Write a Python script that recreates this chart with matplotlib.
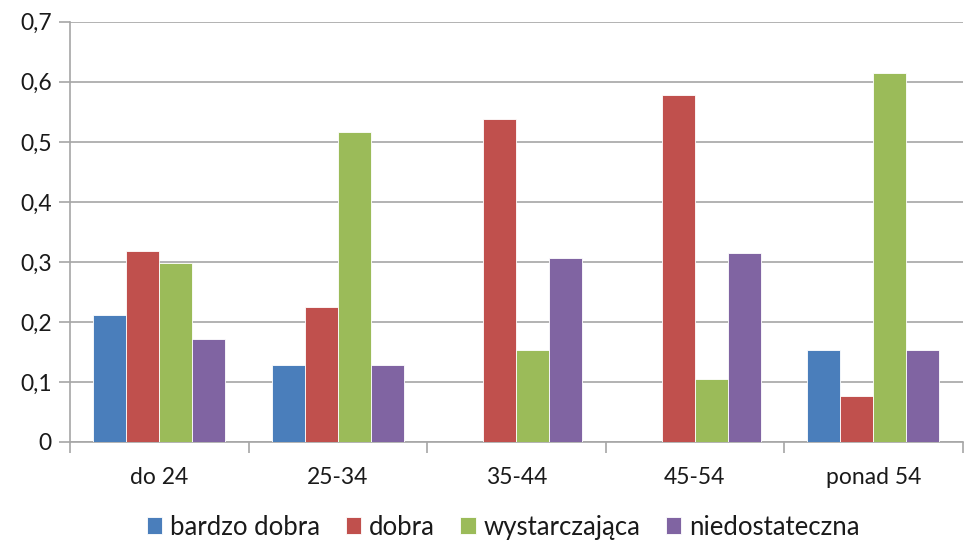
import numpy as np
import matplotlib.pyplot as plt

plt.rcParams['font.family'] = ['Lato', 'DejaVu Sans']

categories = ['do 24', '25-34', '35-44', '45-54', 'ponad 54']
series_names = ['bardzo dobra', 'dobra', 'wystarczająca', 'niedostateczna']
bardzo_dobra = [0.212, 0.129, 0.0, 0.0, 0.154]
dobra = [0.318, 0.225, 0.538, 0.578, 0.077]
wystarczajaca = [0.298, 0.516, 0.154, 0.105, 0.615]
niedostateczna = [0.171, 0.129, 0.307, 0.315, 0.154]
colors = ['#4a7ebb', '#c0504d', '#9bbb59', '#8064a2']

values = [bardzo_dobra, dobra, wystarczajaca, niedostateczna]

fig = plt.figure(figsize=(9.64, 5.45), dpi=100)
ax = fig.add_axes([0.0726, 0.189, 0.926, 0.771])

x = np.arange(len(categories))
w = 0.185
for i, (vals, name, c) in enumerate(zip(values, series_names, colors)):
    ax.bar(x + (i - 1.5) * w, vals, width=w, color=c, label=name,
           edgecolor='white', linewidth=0.6, zorder=3)

ax.set_xlim(-0.5, len(categories) - 0.5)
ax.set_ylim(0, 0.7)
yt = np.arange(0, 0.71, 0.1)
ax.set_yticks(yt)
ax.set_yticklabels(['0' if v == 0 else f'{v:.1f}'.replace('.', ',') for v in yt])
ax.yaxis.grid(True, color='#a6a6a6', linewidth=1.2, zorder=0)

ax.set_xticks(x)
ax.set_xticklabels(categories)
ax.set_xticks(np.arange(-0.5, len(categories)), minor=True)
ax.tick_params(axis='x', which='major', length=0, pad=18, labelsize=16.5, colors='#1a1a1a')
ax.tick_params(axis='x', which='minor', length=8, width=1.2, color='#a6a6a6')
ax.tick_params(axis='y', length=8, width=1.2, color='#a6a6a6', labelsize=16.5,
               labelcolor='#1a1a1a', pad=5)

for s in ['top', 'right']:
    ax.spines[s].set_visible(False)
for s in ['left', 'bottom']:
    ax.spines[s].set_color('#a6a6a6')
    ax.spines[s].set_linewidth(1.2)

fig.legend(loc='center', bbox_to_anchor=(0.522, 0.033), ncol=4, frameon=False,
           fontsize=18.5, handlelength=0.6, handleheight=0.6, handletextpad=0.3,
           columnspacing=1.0, labelcolor='#1a1a1a')

fig.savefig('out.png', dpi=100)
